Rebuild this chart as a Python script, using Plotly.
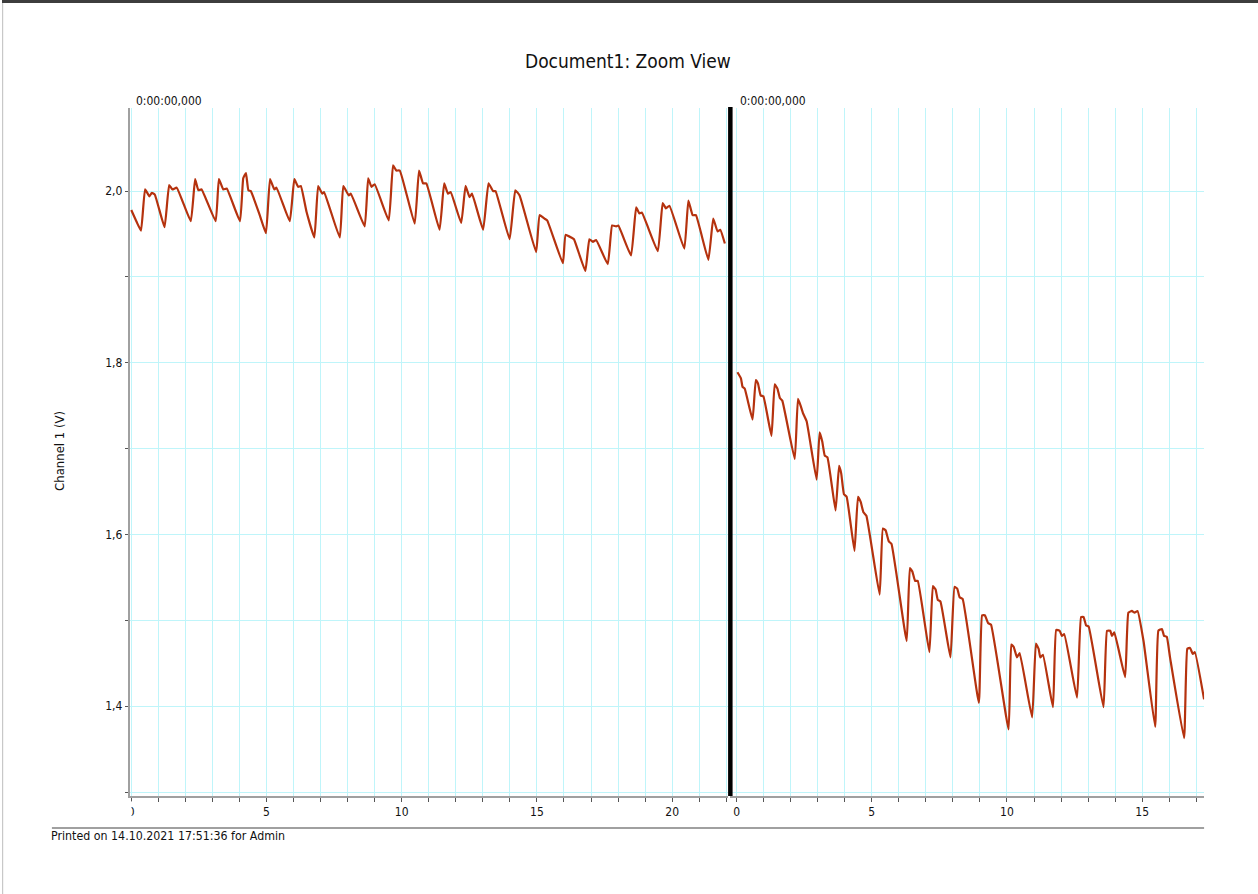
import plotly.graph_objects as go

# ---------------- data ----------------
left_t = [0.00, 0.20, 0.36, 0.51, 0.67, 0.76, 0.87, 1.23, 1.40, 1.52, 1.68, 2.20,
          2.36, 2.48, 2.60, 3.12, 3.24, 3.40, 3.53, 4.02, 4.14, 4.24, 4.33, 4.42,
          4.75, 4.98, 5.13, 5.29, 5.37, 5.86, 6.03, 6.17, 6.27, 6.48, 6.77, 6.91,
          7.06, 7.13, 7.71, 7.84, 8.04, 8.12, 8.63, 8.76, 8.88, 9.00, 9.52, 9.68,
          9.80, 9.93, 10.48, 10.64, 10.79, 10.91, 11.40, 11.57, 11.71, 11.81, 12.20,
          12.36, 12.51, 12.60, 13.01, 13.21, 13.38, 13.47, 13.99, 14.20, 14.36, 14.97,
          15.10, 15.28, 15.38, 15.96, 16.06, 16.27, 16.37, 16.79, 16.94, 17.07, 17.19,
          17.62, 17.78, 17.93, 18.01, 18.48, 18.67, 18.79, 18.88, 19.47, 19.65, 19.77,
          19.90, 20.45, 20.60, 20.76, 20.88, 21.34, 21.52, 21.68, 21.78, 21.95]
left_v = [1.978, 1.964, 1.954, 2.002, 1.994, 1.998, 1.996, 1.958, 2.007, 2.002, 2.004, 1.965,
          2.014, 2.001, 2.002, 1.965, 2.014, 2.002, 2.003, 1.965, 2.015, 2.021, 2.001, 2.000,
          1.972, 1.951, 2.014, 2.002, 2.004, 1.965, 2.014, 2.005, 2.006, 1.976, 1.946, 2.006,
          1.997, 1.999, 1.946, 2.006, 1.995, 1.997, 1.959, 2.015, 2.005, 2.008, 1.966, 2.030,
          2.024, 2.024, 1.962, 2.024, 2.009, 2.009, 1.955, 2.009, 1.997, 1.999, 1.963,
          2.006, 1.993, 1.997, 1.955, 2.009, 2.000, 2.000, 1.944, 2.001, 1.995, 1.929,
          1.972, 1.968, 1.966, 1.916, 1.949, 1.946, 1.944, 1.907, 1.944, 1.941, 1.943,
          1.915, 1.960, 1.959, 1.960, 1.925, 1.981, 1.974, 1.975, 1.930, 1.986, 1.980,
          1.983, 1.933, 1.989, 1.972, 1.972, 1.920, 1.968, 1.953, 1.955, 1.939]

right_t = [0.03, 0.16, 0.22, 0.30, 0.59, 0.71, 0.79, 0.89, 0.99, 1.29, 1.41, 1.51, 1.60,
           1.69, 2.15, 2.27, 2.37, 2.46, 2.59, 2.96, 3.07, 3.17, 3.26, 3.36, 3.66, 3.79,
           3.87, 3.97, 4.07, 4.36, 4.49, 4.59, 4.69, 4.80, 5.29, 5.41, 5.51, 5.63, 5.73,
           6.29, 6.41, 6.50, 6.60, 6.70, 7.13, 7.26, 7.36, 7.44, 7.54, 7.91, 8.06, 8.16,
           8.25, 8.36, 8.96, 9.08, 9.18, 9.30, 9.41, 10.06, 10.16, 10.25, 10.37, 10.47,
           10.93, 11.07, 11.17, 11.23, 11.33, 11.70, 11.82, 11.95, 12.03, 12.12, 12.59,
           12.74, 12.83, 12.93, 13.02, 13.57, 13.70, 13.82, 13.88, 13.97, 14.37, 14.49,
           14.62, 14.72, 14.83, 15.05, 15.48, 15.60, 15.73, 15.81, 15.91, 16.03, 16.55,
           16.67, 16.77, 16.87, 16.95, 17.29]
right_v = [1.789, 1.782, 1.772, 1.770, 1.734, 1.780, 1.776, 1.762, 1.761, 1.715, 1.775, 1.770, 1.759,
           1.756, 1.688, 1.758, 1.750, 1.741, 1.732, 1.664, 1.719, 1.708, 1.692, 1.690, 1.628, 1.680,
           1.671, 1.647, 1.644, 1.581, 1.644, 1.638, 1.626, 1.622, 1.530, 1.607, 1.605, 1.592, 1.589,
           1.476, 1.561, 1.557, 1.546, 1.546, 1.463, 1.540, 1.536, 1.524, 1.522, 1.457, 1.539, 1.537,
           1.527, 1.525, 1.404, 1.506, 1.506, 1.497, 1.495, 1.373, 1.472, 1.469, 1.457, 1.462,
           1.387, 1.473, 1.467, 1.457, 1.460, 1.399, 1.489, 1.488, 1.482, 1.484, 1.410,
           1.504, 1.504, 1.494, 1.493, 1.399, 1.488, 1.488, 1.482, 1.486, 1.434, 1.509,
           1.511, 1.509, 1.511, 1.476, 1.376, 1.488, 1.490, 1.482, 1.481, 1.457, 1.363,
           1.467, 1.468, 1.461, 1.463, 1.408]

left_ticks = list(range(0, 23))
right_ticks = list(range(0, 18))
y_ticks = [1.3, 1.4, 1.5, 1.6, 1.7, 1.8, 1.9, 2.0]
y_labels = {1.4: "1,4", 1.6: "1,6", 1.8: "1,8", 2.0: "2,0"}

title_text = "Document1: Zoom View"
y_title = "Channel 1 (V)"
time_label = "0:00:00,000"
footer_text = "Printed on 14.10.2021 17:51:36 for Admin"

# ---------------- layout helpers ----------------
W, H = 1258, 894
def px(x):
    return x / W
def py(y):
    return 1 - y / H

FONT = "DejaVu Sans Condensed, DejaVu Sans, sans-serif"
LINE_COLOR = "#b5320e"
GRID = "#bff5fa"
AXIS = "#a0a0a0"

line_style = dict(color=LINE_COLOR, width=2.2, shape="spline", smoothing=0.35)

fig = go.Figure()
fig.add_trace(go.Scatter(x=left_t, y=left_v, mode="lines", line=line_style,
                         xaxis="x", yaxis="y", showlegend=False, hoverinfo="skip"))
fig.add_trace(go.Scatter(x=right_t, y=right_v, mode="lines", line=line_style,
                         xaxis="x2", yaxis="y2", showlegend=False, hoverinfo="skip"))

def xtext(ticks):
    return [str(t) if t % 5 == 0 else "" for t in ticks]

y_dom = [py(796), py(107.5)]
y_rng = [1.2955, 2.0974]

common_x = dict(showgrid=True, gridcolor=GRID, gridwidth=1, zeroline=False,
                showline=True, linecolor=AXIS, linewidth=2,
                ticks="outside", ticklen=4, tickcolor="#555", tickwidth=1,
                tickfont=dict(family=FONT, size=12, color="#111"), tickmode="array")

fig.update_layout(
    width=W, height=H, autosize=False,
    margin=dict(l=0, r=0, t=0, b=0),
    paper_bgcolor="white", plot_bgcolor="white",
    xaxis=dict(domain=[px(128), px(727)], range=[-0.055, 22.06], anchor="y",
               tickvals=left_ticks, ticktext=xtext(left_ticks), **common_x),
    xaxis2=dict(domain=[px(729), px(1204)], range=[-0.25, 17.29], anchor="y2",
                tickvals=right_ticks, ticktext=xtext(right_ticks), **common_x),
    yaxis=dict(domain=y_dom, range=y_rng, anchor="x", showgrid=True, gridcolor=GRID,
               zeroline=False, showline=True, linecolor=AXIS, linewidth=2,
               ticks="outside", ticklen=3, tickcolor="#555",
               tickmode="array", tickvals=y_ticks,
               ticktext=[y_labels.get(v, "") for v in y_ticks],
               tickfont=dict(family=FONT, size=12, color="#111")),
    yaxis2=dict(domain=y_dom, range=y_rng, anchor="x2", showgrid=True, gridcolor=GRID,
                zeroline=False, showline=False, showticklabels=False, ticks="",
                tickmode="array", tickvals=y_ticks),
)

shapes = [
    # top dark window bar
    dict(type="rect", xref="paper", yref="paper", x0=0, x1=1, y0=py(3), y1=1,
         fillcolor="#3d3d3d", line=dict(width=0), layer="above"),
    # left border
    dict(type="rect", xref="paper", yref="paper", x0=0, x1=px(1.2), y0=0, y1=py(3),
         fillcolor="#c8c8c8", line=dict(width=0), layer="above"),
    # black separator between panels
    dict(type="line", xref="paper", yref="paper", x0=px(729.5), x1=px(729.5),
         y0=py(796), y1=py(107), line=dict(color="#000000", width=4.5), layer="above"),
    # footer separator
    dict(type="line", xref="paper", yref="paper", x0=px(50), x1=px(1204),
         y0=py(828), y1=py(828), line=dict(color=AXIS, width=2), layer="above"),
    # clip left half of the first "0" tick label
    dict(type="rect", xref="paper", yref="paper", x0=px(115), x1=px(129.8),
         y0=py(822), y1=py(801), fillcolor="white", line=dict(width=0), layer="above"),
]
fig.update_layout(shapes=shapes)

annotations = [
    dict(text=title_text, x=px(627), y=py(61), xref="paper", yref="paper",
         showarrow=False, xanchor="center", yanchor="middle",
         font=dict(family=FONT, size=19, color="#111")),
    dict(text=time_label, x=px(132), y=py(101), xref="paper", yref="paper",
         showarrow=False, xanchor="left", yanchor="middle",
         font=dict(family=FONT, size=12, color="#111")),
    dict(text=time_label, x=px(737), y=py(101), xref="paper", yref="paper",
         showarrow=False, xanchor="left", yanchor="middle",
         font=dict(family=FONT, size=12, color="#111")),
    dict(text=y_title, x=px(58), y=py(451), xref="paper", yref="paper",
         showarrow=False, xanchor="center", yanchor="middle", textangle=-90,
         font=dict(family=FONT, size=13, color="#111")),
    dict(text=footer_text, x=px(47), y=py(836), xref="paper", yref="paper",
         showarrow=False, xanchor="left", yanchor="middle",
         font=dict(family=FONT, size=12.3, color="#111")),
]
fig.update_layout(annotations=annotations)

fig.write_html("out.html")
